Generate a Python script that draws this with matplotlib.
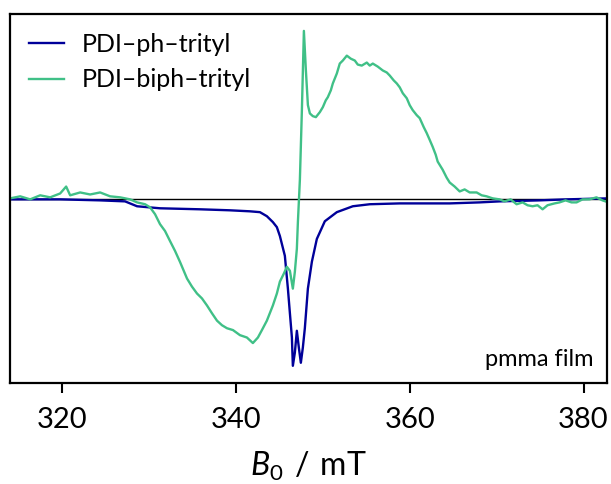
import matplotlib
matplotlib.use("Agg")
import matplotlib.pyplot as plt
import numpy as np

plt.rcParams['font.family'] = ['Lato', 'DejaVu Sans']
plt.rcParams['mathtext.fontset'] = 'custom'
plt.rcParams['mathtext.rm'] = 'Lato'
plt.rcParams['mathtext.it'] = 'Lato:italic'

# PDI-ph-trityl (field in mT, normalised signal)
ph_B = [314.02, 319.77, 324.37, 327.24, 328.62, 331.26, 335.86, 339.31, 341.61, 342.76,
        343.56, 344.25, 344.71, 345.06, 345.63, 345.98, 346.21, 346.44, 346.55, 346.78,
        347.01, 347.24, 347.47, 347.70, 347.93, 348.28, 348.74, 349.31, 350.23, 351.61,
        353.45, 355.40, 358.85, 364.60, 368.05, 370.34, 374.94, 378.05, 382.87]
ph_S = [0.0, 0.0, -0.006, -0.012, -0.041, -0.053, -0.059, -0.065, -0.071, -0.076,
        -0.1, -0.135, -0.165, -0.218, -0.335, -0.53, -0.676, -0.82, -0.988, -0.91,
        -0.78, -0.88, -0.97, -0.88, -0.765, -0.53, -0.37, -0.235, -0.13, -0.076,
        -0.041, -0.029, -0.024, -0.024, -0.018, -0.012, -0.006, 0.0, 0.006]

# PDI-biph-trityl
biph_B = [314.02, 315.17, 316.32, 317.47, 318.62, 319.77, 320.46, 320.92, 322.07, 323.22,
          324.37, 325.52, 326.67, 327.82, 328.62, 329.54, 330.11, 330.69, 331.26, 331.84,
          332.41, 332.99, 333.56, 334.37, 334.94, 335.52, 336.09, 336.67, 337.24, 337.82,
          338.39, 338.97, 339.66, 340.46, 341.26, 341.95, 342.53, 342.99, 343.56, 344.25,
          344.71, 345.06, 345.52, 345.86, 346.21, 346.55, 346.78, 347.01, 347.13, 347.36,
          347.59, 347.82, 348.05, 348.28, 348.51, 348.85, 349.20, 349.66, 350.00, 350.34,
          350.57, 350.92, 351.15, 351.61, 351.95, 352.30, 352.76, 353.22, 353.68, 354.02,
          354.48, 355.06, 355.40, 355.75, 356.32, 356.90, 357.36, 357.70, 358.16, 358.51,
          358.85, 359.20, 359.66, 360.00, 360.34, 360.80, 361.15, 361.61, 361.95, 362.30,
          362.64, 362.99, 363.22, 363.79, 364.25, 364.60, 365.17, 365.75, 366.32, 366.90,
          367.70, 368.28, 368.85, 369.54, 370.34, 370.92, 371.61, 372.30, 372.99, 373.56,
          374.14, 374.71, 375.29, 375.86, 376.67, 377.24, 377.93, 378.62, 379.20, 379.89,
          380.69, 381.49, 382.18, 382.87]
biph_S = [0.006, 0.018, 0.0, 0.024, 0.012, 0.035, 0.076, 0.024, 0.041, 0.029,
          0.041, 0.018, 0.012, 0.0, -0.018, -0.029, -0.047, -0.088, -0.147, -0.188,
          -0.247, -0.306, -0.371, -0.47, -0.518, -0.559, -0.588, -0.63, -0.676, -0.72,
          -0.747, -0.765, -0.776, -0.806, -0.82, -0.853, -0.82, -0.776, -0.72, -0.63,
          -0.559, -0.488, -0.44, -0.4, -0.424, -0.53, -0.43, -0.294, -0.135, 0.118,
          0.53, 1.0, 0.765, 0.56, 0.51, 0.494, 0.488, 0.518, 0.547, 0.588,
          0.606, 0.647, 0.688, 0.747, 0.806, 0.824, 0.853, 0.835, 0.824, 0.8,
          0.794, 0.812, 0.794, 0.806, 0.788, 0.765, 0.753, 0.735, 0.706, 0.688,
          0.665, 0.63, 0.6, 0.559, 0.53, 0.5, 0.482, 0.429, 0.394, 0.353,
          0.312, 0.265, 0.224, 0.176, 0.129, 0.1, 0.076, 0.047, 0.059, 0.041,
          0.041, 0.024, 0.018, 0.006, 0.0, -0.012, 0.0, -0.029, -0.018, -0.035,
          -0.041, -0.035, -0.059, -0.035, -0.024, -0.018, -0.006, -0.018, -0.018, 0.0,
          0.0, 0.012, -0.006, -0.018]

fig = plt.figure(figsize=(6.11, 4.84), dpi=100)
ax = fig.add_axes([0.0164, 0.2087, 0.977, 0.7623])

ax.axhline(0, color='black', lw=1.0, zorder=1)
ax.plot(ph_B, ph_S, color='#000099', lw=1.7, label='PDI–ph–trityl')
ax.plot(biph_B, biph_S, color='#40c087', lw=1.7, label='PDI–biph–trityl')

ax.set_xlim(314.0, 382.7)
ax.set_ylim(-1.09, 1.10)
ax.set_yticks([])
ax.set_xticks([320, 340, 360, 380])
ax.tick_params(axis='x', labelsize=21, length=7.2, width=1.5, pad=10)
for s in ax.spines.values():
    s.set_linewidth(1.6)
ax.set_xlabel(r'$B_0\;\,/\;\,\mathrm{mT}$', fontsize=23, labelpad=12)

ax.legend(loc='upper left', frameon=False, fontsize=18, handlelength=1.4,
          handletextpad=0.7, labelspacing=0.5, borderaxespad=0.35)
ax.text(0.977, 0.035, 'pmma film', transform=ax.transAxes, ha='right', va='bottom',
        fontsize=17)

fig.savefig('out.png', dpi=100)
